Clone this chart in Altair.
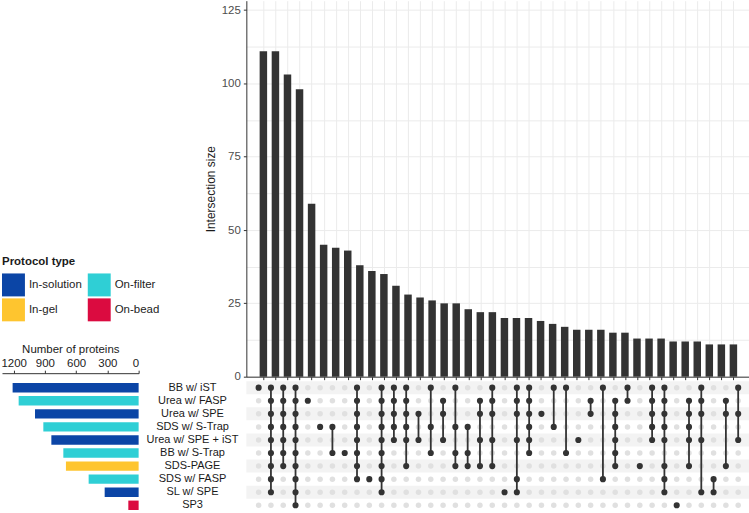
import altair as alt
import pandas as pd

# ---- data -------------------------------------------------------------
set_names = [
    "BB w/ iST", "Urea w/ FASP", "Urea w/ SPE", "SDS w/ S-Trap",
    "Urea w/ SPE + iST", "BB w/ S-Trap", "SDS-PAGE", "SDS w/ FASP",
    "SL w/ SPE", "SP3",
]
set_sizes = [1210, 1152, 995, 915, 838, 723, 698, 480, 326, 99]
set_protocols = [
    "In-solution", "On-filter", "In-solution", "On-filter", "In-solution",
    "On-filter", "In-gel", "On-filter", "In-solution", "On-bead",
]
protocol_order = ["In-solution", "In-gel", "On-filter", "On-bead"]
protocol_colors = ["#0b45a6", "#fec52f", "#2fcfd5", "#db0b40"]

intersection_sizes = [
    111, 111, 103, 98, 59, 45, 44, 43, 38, 36,
    35, 31, 28, 27, 26, 25, 25, 23, 22, 22,
    20, 20, 20, 19, 18, 17, 16, 16, 16, 15,
    15, 13, 13, 13, 12, 12, 12, 11, 11, 11,
]
# member sets of each intersection (1-based index into set_names)
intersection_members = [
    [1], [1, 2, 3, 4, 5, 6, 7, 8, 9], [1, 2, 3, 4, 5, 6, 7],
    [1, 2, 3, 4, 5, 6, 7, 8, 9, 10], [2], [4], [4, 6], [6],
    [1, 2, 3, 4, 5, 6, 7, 8], [8], [1, 2, 3, 4, 5, 6, 7, 8, 9],
    [1, 2, 3, 4, 5], [1, 2, 3, 4, 5, 7], [3, 5], [1, 4, 6], [2, 3, 5],
    [1, 4, 6, 7], [4, 6, 7], [2, 3, 5, 7], [1, 2, 3, 5, 7], [9],
    [1, 2, 3, 5, 8, 9], [1, 2, 3, 4, 5, 6], [3], [1, 4], [1, 6], [5],
    [2, 3], [1, 8], [2, 3, 4, 5, 6, 7], [1, 2], [7], [1, 2, 3, 4, 5],
    [1, 2, 3, 4, 5, 7, 8, 9], [10], [2, 3, 4, 5, 7], [1, 2, 3, 5, 9],
    [8, 9], [2, 3, 7], [1, 3, 5],
]

# ---- tables -------------------------------------------------------------
n_cols = len(intersection_sizes)
n_rows = len(set_names)
bars_df = pd.DataFrame({"col": range(1, n_cols + 1), "size": intersection_sizes})

cells = []
for c, members in enumerate(intersection_members, start=1):
    for r in range(1, n_rows + 1):
        cells.append({"col": c, "row": r, "member": r in members})
cells_df = pd.DataFrame(cells)

links_df = pd.DataFrame(
    [
        {"col": c, "top": min(m), "bottom": max(m)}
        for c, m in enumerate(intersection_members, start=1)
        if len(m) > 1
    ]
)
stripes_df = pd.DataFrame(
    {"y0": [r - 0.5 for r in range(1, n_rows + 1, 2)],
     "y1": [r + 0.5 for r in range(1, n_rows + 1, 2)]}
)
sets_df = pd.DataFrame(
    {"name": set_names, "size": set_sizes, "protocol": set_protocols}
)

# ---- layout constants ---------------------------------------------------
FONT = "Liberation Sans"
W_MAIN = 504
H_BARS = 377
H_MATRIX = 131
W_SETS = 137
GAP_X = 108
GAP_Y = 4.5
DARK = "#333333"
GRID = "#ebebeb"

x_scale = alt.Scale(domain=[0, 40.88], nice=False, zero=False)
row_scale = alt.Scale(domain=[0.5, n_rows + 0.5], reverse=True, nice=False, zero=False)

# ---- intersection size bars ---------------------------------------------
y_ticks = [i * 12.5 for i in range(11)]
bars = (
    alt.Chart(bars_df)
    .mark_bar(size=7.5, color=DARK)
    .encode(
        x=alt.X(
            "col:Q",
            scale=x_scale,
            axis=alt.Axis(
                values=list(range(1, n_cols + 1)), labels=False, title=None,
                ticks=True, tickSize=3, tickColor=DARK, domainColor=DARK,
                grid=True, gridColor=GRID,
            ),
        ),
        y=alt.Y(
            "size:Q",
            scale=alt.Scale(domain=[0, 128.2], nice=False),
            axis=alt.Axis(
                title="Intersection size", values=y_ticks,
                labelExpr="datum.value % 25 === 0 ? datum.label : ''",
                tickOpacity={"condition": {"test": "datum.value % 25 !== 0", "value": 0}, "value": 1},
                tickSize=3, tickColor=DARK, domainColor=DARK,
                gridColor=GRID, labelFontSize=11.5, labelColor="#4d4d4d",
                labelPadding=3, titleFontSize=12, titleFontWeight="normal",
                titleColor="#1a1a1a", titlePadding=4,
            ),
        ),
    )
    .properties(width=W_MAIN, height=H_BARS)
)

# ---- membership matrix --------------------------------------------------
x_cell = alt.X("col:Q", scale=x_scale, axis=None)
stripes = (
    alt.Chart(stripes_df)
    .mark_rect(color="#f3f3f3")
    .encode(
        x=alt.value(0), x2=alt.value(W_MAIN),
        y=alt.Y("y0:Q", scale=row_scale, axis=None), y2="y1:Q",
    )
)
empty_dots = (
    alt.Chart(cells_df)
    .transform_filter("!datum.member")
    .mark_circle(size=30, color="#e0e0e0", opacity=1)
    .encode(x=x_cell, y=alt.Y("row:Q", scale=row_scale, axis=None))
)
links = (
    alt.Chart(links_df)
    .mark_rule(color=DARK, strokeWidth=1.8)
    .encode(x=x_cell, y=alt.Y("top:Q", scale=row_scale, axis=None), y2="bottom:Q")
)
member_dots = (
    alt.Chart(cells_df)
    .transform_filter("datum.member")
    .mark_circle(size=38, color=DARK, opacity=1)
    .encode(x=x_cell, y=alt.Y("row:Q", scale=row_scale, axis=None))
)
matrix = alt.layer(stripes, empty_dots, links, member_dots).properties(
    width=W_MAIN, height=H_MATRIX
)

# ---- set sizes with labels and protocol legend ---------------------------
set_bars = (
    alt.Chart(sets_df)
    .mark_bar()
    .encode(
        x=alt.X(
            "size:Q",
            scale=alt.Scale(domain=[0, 1312], reverse=True, nice=False),
            axis=alt.Axis(
                orient="top", values=[0, 300, 600, 900, 1200], format="d",
                title="Number of proteins", offset=8, grid=False,
                tickSize=3, tickColor=DARK, domainColor=DARK,
                labelFontSize=11.5, labelColor="#222222", labelPadding=2,
                titleFontSize=11.5, titleFontWeight="normal",
                titleColor="#1a1a1a", titlePadding=3,
            ),
        ),
        y=alt.Y(
            "name:N", sort=set_names,
            scale=alt.Scale(paddingInner=0.28, paddingOuter=0.14),
            axis=alt.Axis(
                orient="right", title=None, ticks=False, tickSize=0,
                domain=False, labelAlign="center", labelPadding=53.5,
                labelFontSize=11, labelColor="#1a1a1a",
            ),
        ),
        color=alt.Color(
            "protocol:N",
            scale=alt.Scale(domain=protocol_order, range=protocol_colors),
            legend=alt.Legend(
                title="Protocol type", orient="none", legendX=0, legendY=256,
                columns=2, symbolType="square", symbolSize=529,
                symbolStrokeWidth=0, symbolOpacity=1, labelOffset=4,
                columnPadding=5, rowPadding=2, titlePadding=6, padding=0,
                titleFontSize=11.5, titleFontWeight="bold", titleColor="#1a1a1a",
                labelFontSize=11.5, labelColor="#222222",
            ),
        ),
    )
    .properties(width=W_SETS, height=H_MATRIX)
)

# empty cell above the set-size panel (holds the legend area)
spacer = (
    alt.Chart(pd.DataFrame({"v": [0]}))
    .mark_point(opacity=0, size=0)
    .encode(x=alt.value(1), y=alt.value(1))
    .properties(width=W_SETS, height=H_BARS)
)

chart = (
    alt.concat(
        spacer, bars, set_bars, matrix,
        columns=2, spacing={"row": GAP_Y, "column": GAP_X}, bounds="flush",
    )
    .properties(padding=0, background="white")
    .configure(font=FONT)
    .configure_view(stroke=None)
)

chart.save("out.html", embed_options={"renderer": "svg", "actions": False})
